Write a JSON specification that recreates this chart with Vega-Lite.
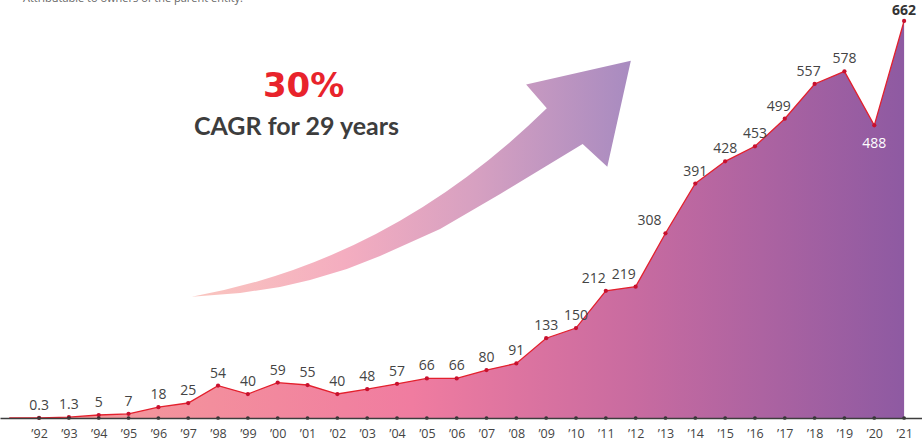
{
  "$schema": "https://vega.github.io/schema/vega-lite/v6.json",
  "width": 922,
  "height": 418,
  "autosize": {"type": "none"},
  "padding": {"left": 0, "right": 0, "top": 0, "bottom": 26},
  "background": "white",
  "config": {"view": {"stroke": null}, "font": "Open Sans"},
  "data": {
    "values": [
      {"year": 1991, "value": 0},
      {"year": 1992, "value": 0.3},
      {"year": 1993, "value": 1.3},
      {"year": 1994, "value": 5},
      {"year": 1995, "value": 7},
      {"year": 1996, "value": 18},
      {"year": 1997, "value": 25},
      {"year": 1998, "value": 54},
      {"year": 1999, "value": 40},
      {"year": 2000, "value": 59},
      {"year": 2001, "value": 55},
      {"year": 2002, "value": 40},
      {"year": 2003, "value": 48},
      {"year": 2004, "value": 57},
      {"year": 2005, "value": 66},
      {"year": 2006, "value": 66},
      {"year": 2007, "value": 80},
      {"year": 2008, "value": 91},
      {"year": 2009, "value": 133},
      {"year": 2010, "value": 150},
      {"year": 2011, "value": 212},
      {"year": 2012, "value": 219},
      {"year": 2013, "value": 308},
      {"year": 2014, "value": 391},
      {"year": 2015, "value": 428},
      {"year": 2016, "value": 453},
      {"year": 2017, "value": 499},
      {"year": 2018, "value": 557},
      {"year": 2019, "value": 578},
      {"year": 2020, "value": 488},
      {"year": 2021, "value": 662}
    ]
  },
  "layer": [
    {
      "mark": {
        "type": "area",
        "opacity": 1,
        "color": {
          "gradient": "linear",
          "x1": 0, "y1": 0, "x2": 1, "y2": 0,
          "stops": [
            {"offset": 0, "color": "#f6a09a"},
            {"offset": 0.45, "color": "#f07ca0"},
            {"offset": 0.7, "color": "#c86ba0"},
            {"offset": 1, "color": "#8e5aa2"}
          ]
        }
      },
      "encoding": {
        "x": {
          "field": "year",
          "type": "quantitative",
          "scale": {"domain": [1990.69, 2021.6], "nice": false, "zero": false},
          "axis": {
            "values": [1992,1993,1994,1995,1996,1997,1998,1999,2000,2001,2002,2003,2004,2005,2006,2007,2008,2009,2010,2011,2012,2013,2014,2015,2016,2017,2018,2019,2020,2021],
            "tickCount": 40,
            "format": "d",
            "labelExpr": "'’' + substring(datum.label, 2, 4)",
            "title": null,
            "grid": false,
            "ticks": false,
            "domainColor": "#3d3d3d",
            "domainWidth": 1.5,
            "labelFont": "Open Sans",
            "labelFontSize": 12.5,
            "labelColor": "#444444",
            "labelPadding": 9,
            "labelOverlap": false,
            "zindex": 1
          }
        },
        "y": {
          "field": "value",
          "type": "quantitative",
          "scale": {"domain": [0, 697], "nice": false, "zero": true},
          "axis": null
        }
      }
    },
    {
      "mark": {"type": "line", "color": "#e3202d", "strokeWidth": 1.3},
      "encoding": {
        "x": {"field": "year", "type": "quantitative"},
        "y": {"field": "value", "type": "quantitative"}
      }
    },
    {
      "transform": [{"filter": "datum.year >= 1992"}],
      "mark": {"type": "point", "filled": true, "color": "#c8102e", "size": 18, "opacity": 1},
      "encoding": {
        "x": {"field": "year", "type": "quantitative"},
        "y": {"field": "value", "type": "quantitative"}
      }
    },
    {
      "transform": [{"filter": "datum.year >= 1992"}],
      "mark": {"type": "point", "filled": true, "color": "#333333", "size": 14, "opacity": 1},
      "encoding": {
        "x": {"field": "year", "type": "quantitative"},
        "y": {"datum": 0, "type": "quantitative"}
      }
    },
    {
      "transform": [{"filter": "datum.year >= 1992 && datum.year <= 2019 && indexof([2011,2012,2013,2017,2018], datum.year) < 0"}],
      "mark": {"type": "text", "dy": -8, "baseline": "alphabetic", "fontSize": 14, "color": "#444444", "font": "Open Sans"},
      "encoding": {
        "x": {"field": "year", "type": "quantitative"},
        "y": {"field": "value", "type": "quantitative"},
        "text": {"field": "value", "type": "nominal"}
      }
    },
    {
      "transform": [{"filter": "datum.year == 2011 || datum.year == 2012"}],
      "mark": {"type": "text", "dy": -8, "dx": -12, "baseline": "alphabetic", "fontSize": 14, "color": "#444444", "font": "Open Sans"},
      "encoding": {
        "x": {"field": "year", "type": "quantitative"},
        "y": {"field": "value", "type": "quantitative"},
        "text": {"field": "value", "type": "nominal"}
      }
    },
    {
      "transform": [{"filter": "datum.year == 2013"}],
      "mark": {"type": "text", "dy": -8, "dx": -16, "baseline": "alphabetic", "fontSize": 14, "color": "#444444", "font": "Open Sans"},
      "encoding": {
        "x": {"field": "year", "type": "quantitative"},
        "y": {"field": "value", "type": "quantitative"},
        "text": {"field": "value", "type": "nominal"}
      }
    },
    {
      "transform": [{"filter": "datum.year == 2017 || datum.year == 2018"}],
      "mark": {"type": "text", "dy": -8, "dx": -6, "baseline": "alphabetic", "fontSize": 14, "color": "#444444", "font": "Open Sans"},
      "encoding": {
        "x": {"field": "year", "type": "quantitative"},
        "y": {"field": "value", "type": "quantitative"},
        "text": {"field": "value", "type": "nominal"}
      }
    },
    {
      "transform": [{"filter": "datum.year == 2020"}],
      "mark": {"type": "text", "dy": 12, "baseline": "top", "fontSize": 14, "color": "#ffffff", "font": "Open Sans"},
      "encoding": {
        "x": {"field": "year", "type": "quantitative"},
        "y": {"field": "value", "type": "quantitative"},
        "text": {"field": "value", "type": "nominal"}
      }
    },
    {
      "transform": [{"filter": "datum.year == 2021"}],
      "mark": {"type": "text", "dy": -6, "baseline": "alphabetic", "fontSize": 14, "fontWeight": "bold", "color": "#333333", "font": "Open Sans"},
      "encoding": {
        "x": {"field": "year", "type": "quantitative"},
        "y": {"field": "value", "type": "quantitative"},
        "text": {"field": "value", "type": "nominal"}
      }
    },
    {
      "transform": [{"filter": "datum.year == 1992"}],
      "mark": {"type": "text", "text": "30%", "font": "DejaVu Sans", "fontWeight": "bold", "fontSize": 34, "color": "#e8232b", "align": "center", "baseline": "alphabetic"},
      "encoding": {
        "x": {"datum": 2000.87, "type": "quantitative"},
        "y": {"datum": 535, "type": "quantitative"}
      }
    },
    {
      "transform": [{"filter": "datum.year == 1992"}],
      "mark": {"type": "text", "text": "CAGR for 29 years", "font": "Lato", "fontWeight": "bold", "fontSize": 25, "color": "#3d3d3d", "align": "center", "baseline": "alphabetic"},
      "encoding": {
        "x": {"datum": 2000.63, "type": "quantitative"},
        "y": {"datum": 472, "type": "quantitative"}
      }
    },
    {
      "transform": [{"filter": "datum.year == 1992"}],
      "mark": {"type": "text", "text": "Attributable to owners of the parent entity.", "font": "Open Sans", "fontSize": 11, "color": "#666666", "align": "left", "baseline": "alphabetic"},
      "encoding": {
        "x": {"datum": 1991.46, "type": "quantitative"},
        "y": {"datum": 694, "type": "quantitative"}
      }
    },
    {
      "transform": [{"filter": "datum.year == 1992"}],
      "mark": {
        "type": "point",
        "shape": "M-1.001,0.539Q-0.096,0.377,0.613,-0.317L0.519,-0.426L0.995,-0.534L0.888,-0.052L0.776,-0.155L0.401,0.072L0.128,0.231L-0.145,0.354L-0.296,0.413L-0.463,0.463L-0.600,0.495L-0.781,0.522Z",
        "size": 193600,
        "filled": true,
        "opacity": 1,
        "strokeWidth": 0,
        "fill": {
          "gradient": "linear",
          "x1": 0, "y1": 0, "x2": 1, "y2": 0,
          "stops": [
            {"offset": 0, "color": "#fac6bf"},
            {"offset": 0.35, "color": "#f4adc0"},
            {"offset": 0.65, "color": "#d6a0c1"},
            {"offset": 1, "color": "#a88bc0"}
          ]
        }
      },
      "encoding": {
        "x": {"datum": 2004.5, "type": "quantitative"},
        "y": {"datum": 400, "type": "quantitative"}
      }
    }
  ]
}
